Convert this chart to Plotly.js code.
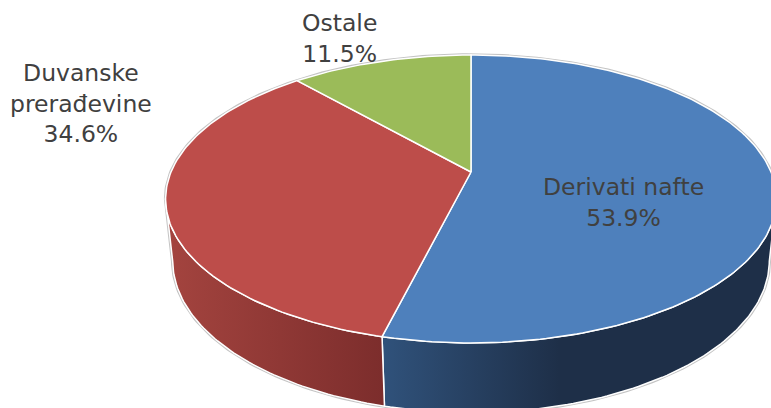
<!DOCTYPE html>
<html>
<head>
<meta charset="utf-8">
<script src="https://cdn.plot.ly/plotly-3.0.1.min.js"></script>
<style>html,body{margin:0;padding:0;background:#fff;}#chart{width:771px;height:408px;}</style>
</head>
<body>
<div id="chart"></div>
<script>
// ---- data ----
const categories = ['Derivati nafte', 'Duvanske prerađevine', 'Ostale'];
const labelLines = ['Derivati nafte', 'Duvanske<br>prerađevine', 'Ostale'];
const shares = [53.9, 34.6, 11.5];

// ---- styles ----
const topColors = ['#4e80bc', '#bd4d4a', '#9bbb59'];
const sideColors = [['#30527b', '#1e2f48'], ['#a4443f', '#7c2d2c'], ['#7f9a48', '#627a36']];
const fontFamily = '"DejaVu Sans", Verdana, sans-serif';

// ---- 3D projection geometry ----
const cx = 471, cy = 172;
const sinA = 0.463, cosA = Math.sqrt(1 - sinA * sinA);
const D = 4.727, f = 1418, thick = 0.234;

function proj(thetaDeg, z, r) {
  if (r === undefined) r = 1;
  const th = thetaDeg * Math.PI / 180;
  const X = r * Math.sin(th), Y = r * Math.cos(th);
  const depth = D + Y * cosA - z * sinA;
  return [cx + f * X / depth, cy - f * (Y * sinA + z * cosA) / depth];
}
function arc(a, b, z) {
  const pts = [];
  const n = Math.max(2, Math.ceil(Math.abs(b - a)));
  for (let i = 0; i <= n; i++) pts.push(proj(a + (b - a) * i / n, z));
  return pts;
}
// silhouette angles (screen-x extremes)
const phiR = Math.acos(-cosA / D) * 180 / Math.PI; // right
const phiL = 360 - phiR; // left

const total = shares.reduce((s, v) => s + v, 0);
const starts = [], ends = [];
let acc = 0;
shares.forEach(v => { starts.push(acc / total * 360); acc += v; ends.push(acc / total * 360); });

const traces = [];
function poly(pts, opts) {
  const xs = pts.map(p => p[0]), ys = pts.map(p => p[1]);
  xs.push(xs[0]); ys.push(ys[0]);
  traces.push(Object.assign({type: 'scatter', mode: 'lines', x: xs, y: ys, hoverinfo: 'skip', showlegend: false}, opts));
}

// outer grey outline
{
  const topBack = arc(phiL, 360 + phiR, 0);
  const botFront = arc(phiR, phiL, -thick);
  poly(topBack.concat(botFront), {line: {color: '#c4c4c4', width: 3.5}, fill: 'none'});
}

// side walls (front-facing part only)
shares.forEach((v, i) => {
  const a = Math.max(starts[i], phiR), b = Math.min(ends[i], phiL);
  if (b <= a) return;
  const topPts = arc(a, b, 0);
  const botPts = arc(b, a, -thick);
  const pts = topPts.concat(botPts);
  const xs = pts.map(p => p[0]);
  const xmin = Math.min(...xs), xmax = Math.max(...xs);
  let gStart, gStop;
  if (i === 0) { gStart = xmin; gStop = xmin + (xmax - xmin) * 0.45; }
  else { gStart = xmin; gStop = xmax; }
  poly(pts, {
    line: {color: '#ffffff', width: 1.5},
    fill: 'toself',
    fillcolor: sideColors[i][0],
    fillgradient: {type: 'horizontal', start: gStart, stop: gStop,
      colorscale: [[0, sideColors[i][0]], [1, sideColors[i][1]]]}
  });
});

// top faces
shares.forEach((v, i) => {
  const pts = [proj(0, 0, 0)].concat(arc(starts[i], ends[i], 0));
  poly(pts, {line: {color: '#ffffff', width: 1.5}, fill: 'toself', fillcolor: topColors[i]});
});

// labels
const labelRadius = [0.52, 1.42, 1.5];
const labelShift = [[-4, 22], [52, -118], [-6, 21]];
const annotations = shares.map((v, i) => {
  const mid = (starts[i] + ends[i]) / 2;
  const p = proj(mid, 0, labelRadius[i]);
  return {
    x: p[0] + labelShift[i][0], y: p[1] + labelShift[i][1], xref: 'x', yref: 'y',
    text: labelLines[i] + '<br>' + v.toFixed(1) + '%',
    showarrow: false, xanchor: 'center', yanchor: 'middle', align: 'center',
    font: {family: fontFamily, size: 23.5, color: '#404040'}
  };
});

const layout = {
  width: 771, height: 408,
  margin: {l: 0, r: 0, t: 0, b: 0, pad: 0},
  paper_bgcolor: '#ffffff', plot_bgcolor: '#ffffff',
  xaxis: {range: [0, 771], visible: false, fixedrange: true},
  yaxis: {range: [408, 0], visible: false, fixedrange: true},
  annotations: annotations,
  showlegend: false
};
Plotly.newPlot('chart', traces, layout, {staticPlot: true, displayModeBar: false});
</script>
</body>
</html>
